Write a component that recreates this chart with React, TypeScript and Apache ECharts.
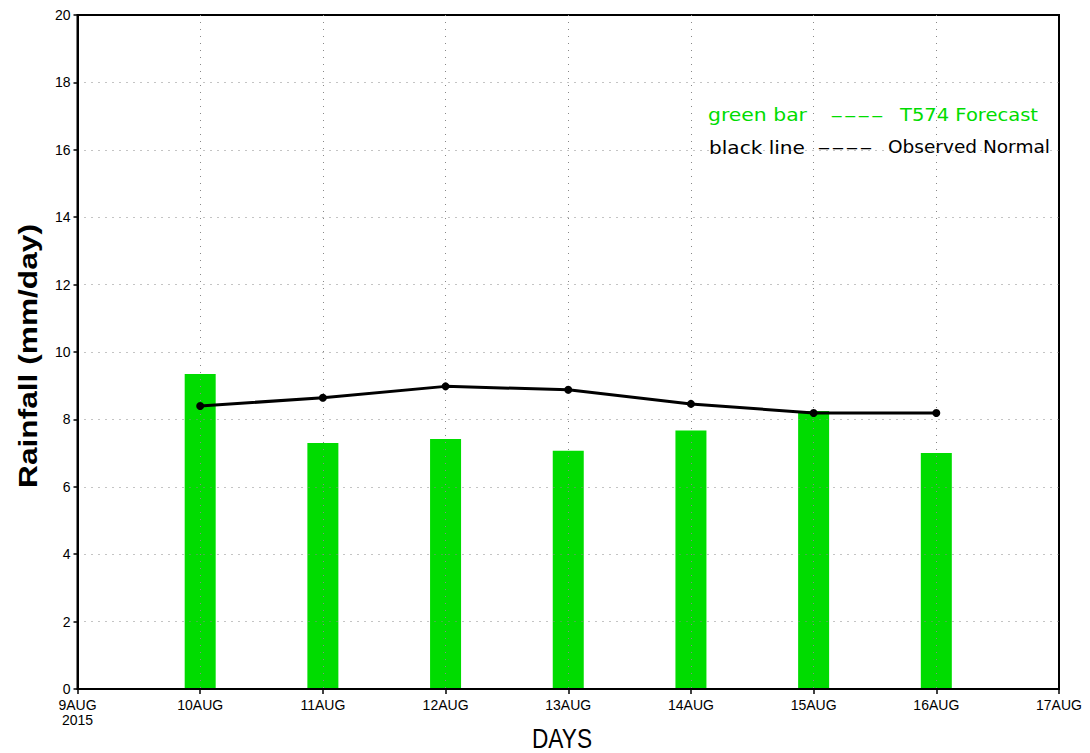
import React, { useEffect, useRef } from "react";
import * as echarts from "echarts";

const dayLabels = ["9AUG\n2015", "10AUG", "11AUG", "12AUG", "13AUG", "14AUG", "15AUG", "16AUG", "17AUG"];
const dayIndex = [1, 2, 3, 4, 5, 6, 7];
const forecast = [9.35, 7.3, 7.42, 7.07, 7.67, 8.25, 7.0];
const normal = [8.4, 8.64, 8.98, 8.88, 8.46, 8.19, 8.19];
const yTicks = [0, 2, 4, 6, 8, 10, 12, 14, 16, 18, 20];
const legendGreen = ["green bar", "----", "T574 Forecast"];
const legendBlack = ["black line", "----", "Observed Normal"];

const GREEN = "#00DC00";
const FONT = "Liberation Sans, Arial, sans-serif";
const LFONT = "DejaVu Sans, sans-serif";

function measure(text: string, font: string): number {
  const c = document.createElement("canvas").getContext("2d")!;
  c.font = font;
  return c.measureText(text).width;
}

// stretched text piece: fits the text between x0 and x1
function piece(text: string, x0: number, x1: number, y: number, font: string, fill: string) {
  const w = measure(text, font);
  return {
    type: "text",
    x: x0,
    y,
    scaleX: (x1 - x0) / w,
    z: 10,
    style: { text, font, fill, align: "left", verticalAlign: "middle" },
  };
}

export default function App() {
  const ref = useRef<HTMLDivElement>(null);
  useEffect(() => {
    document.body.style.margin = "0";
    const chart = echarts.init(ref.current!, null, { renderer: "svg" });
    const lf = `18px ${LFONT}`;
    const yTitleFont = `bold 26px ${FONT}`;
    const yTitle = "Rainfall (mm/day)";
    const xTitleFont = `24px ${FONT}`;
    const xTitle = "DAYS";
    const gridLine = { show: true, showMinLine: false, showMaxLine: false, lineStyle: { color: "#888", type: [1, 6], width: 1 } };
    chart.setOption({
      animation: false,
      backgroundColor: "#fff",
      grid: {
        left: 77.5,
        right: 1090 - 1059,
        top: 15,
        bottom: 753 - 689,
        show: true,
        borderColor: "#000",
        borderWidth: 2,
        backgroundColor: "transparent",
      },
      xAxis: {
        type: "value",
        min: 0,
        max: 8,
        interval: 1,
        z: 3,
        axisLine: { show: true, onZero: false, lineStyle: { color: "#000", width: 2 } },
        axisTick: { show: true, length: 5, lineStyle: { color: "#000", width: 1.5 } },
        axisLabel: {
          fontFamily: FONT,
          fontSize: 14,
          color: "#000",
          margin: 8,
          lineHeight: 15,
          formatter: (v: number) => dayLabels[Math.round(v)] ?? "",
        },
        splitLine: gridLine,
      },
      yAxis: {
        type: "value",
        min: 0,
        max: 20,
        interval: 2,
        z: 3,
        axisLine: { show: true, lineStyle: { color: "#000", width: 2 } },
        axisTick: { show: true, length: 4, lineStyle: { color: "#000", width: 1.5 } },
        axisLabel: {
          fontFamily: FONT,
          fontSize: 14,
          color: "#000",
          margin: 7,
          formatter: (v: number) => (yTicks.includes(v) ? String(v) : ""),
        },
        splitLine: gridLine,
      },
      series: [
        {
          type: "bar",
          z: 2,
          barWidth: 31,
          itemStyle: { color: GREEN },
          data: dayIndex.map((d, i) => [d, forecast[i]]),
        },
        {
          type: "line",
          z: 5,
          symbol: "circle",
          symbolSize: 8,
          lineStyle: { color: "#000", width: 3 },
          itemStyle: { color: "#000" },
          data: dayIndex.map((d, i) => [d, normal[i]]),
        },
      ],
      graphic: [
        piece(legendGreen[0], 708, 807, 115, lf, GREEN),
        piece(legendGreen[1], 830, 884, 115, lf, GREEN),
        piece(legendGreen[2], 900, 1038, 115, lf, GREEN),
        piece(legendBlack[0], 709, 805, 147, lf, "#000"),
        piece(legendBlack[1], 817, 873, 147, lf, "#000"),
        piece(legendBlack[2], 888, 1050, 147, lf, "#000"),
        {
          type: "text",
          x: 28,
          y: 356,
          rotation: Math.PI / 2,
          scaleX: 264 / measure(yTitle, yTitleFont),
          z: 10,
          style: { text: yTitle, font: yTitleFont, fill: "#000", align: "center", verticalAlign: "middle" },
        },
        {
          type: "text",
          x: 562,
          y: 738,
          scaleX: 60 / measure(xTitle, xTitleFont),
          scaleY: 1.15,
          z: 10,
          style: { text: xTitle, font: xTitleFont, fill: "#000", align: "center", verticalAlign: "middle" },
        },
      ],
    });
    return () => chart.dispose();
  }, []);
  return <div ref={ref} style={{ width: 1090, height: 753 }} />;
}
